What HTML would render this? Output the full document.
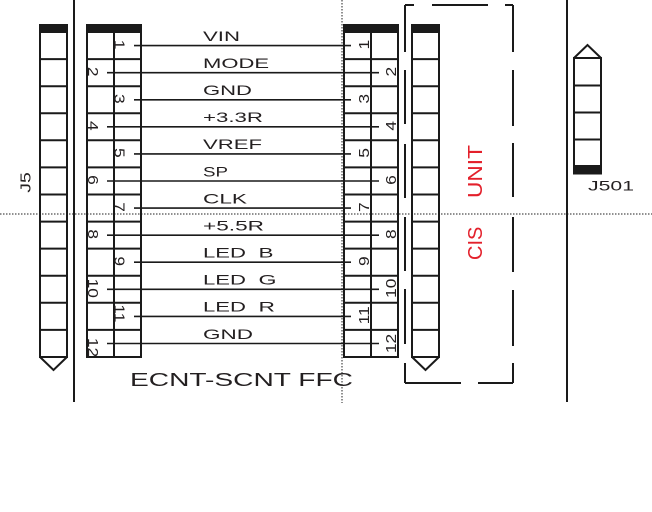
<!DOCTYPE html>
<html>
<head>
<meta charset="utf-8">
<style>
html,body{margin:0;padding:0;background:#fff;}
svg{display:block;}
text{font-family:"Liberation Sans",Arial,sans-serif;fill:#231f20;}
</style>
</head>
<body>
<svg width="652" height="512" viewBox="0 0 652 512" xmlns="http://www.w3.org/2000/svg">
<rect x="0" y="0" width="652" height="512" fill="#fff"/>

<!-- dotted guide lines -->
<line x1="0" y1="214" x2="652" y2="214" stroke="#222" stroke-width="1" stroke-dasharray="1.5 1.5"/>
<line x1="342" y1="0" x2="342" y2="403" stroke="#222" stroke-width="1" stroke-dasharray="1.5 1.5"/>

<!-- solid vertical lines -->
<line x1="74" y1="0" x2="74" y2="402" stroke="#1a1a1a" stroke-width="2"/>
<line x1="567" y1="0" x2="567" y2="402" stroke="#1a1a1a" stroke-width="2"/>

<g stroke="#1a1a1a" stroke-width="2" fill="none">
  <!-- J5 -->
  <rect x="40" y="32" width="27" height="325"/>
  <polyline points="40,357 53.5,370 67,357"/>
  <!-- Left FFC -->
  <rect x="87" y="32" width="54" height="325"/>
  <line x1="114" y1="32" x2="114" y2="357"/>
  <!-- Right FFC -->
  <rect x="344" y="32" width="54" height="325"/>
  <line x1="371" y1="32" x2="371" y2="357"/>
  <!-- CIS connector -->
  <rect x="412" y="32" width="27" height="325"/>
  <polyline points="412,357 425.5,370 439,357"/>
  <!-- row lines -->
  <path d="
  M40 59.1H67 M40 86.2H67 M40 113.2H67 M40 140.3H67 M40 167.4H67 M40 194.5H67 M40 221.6H67 M40 248.6H67 M40 275.7H67 M40 302.8H67 M40 329.9H67
  M87 59.1H141 M87 86.2H141 M87 113.2H141 M87 140.3H141 M87 167.4H141 M87 194.5H141 M87 221.6H141 M87 248.6H141 M87 275.7H141 M87 302.8H141 M87 329.9H141
  M344 59.1H398 M344 86.2H398 M344 113.2H398 M344 140.3H398 M344 167.4H398 M344 194.5H398 M344 221.6H398 M344 248.6H398 M344 275.7H398 M344 302.8H398 M344 329.9H398
  M412 59.1H439 M412 86.2H439 M412 113.2H439 M412 140.3H439 M412 167.4H439 M412 194.5H439 M412 221.6H439 M412 248.6H439 M412 275.7H439 M412 302.8H439 M412 329.9H439
  "/>
  <!-- J501 -->
  <rect x="574" y="58" width="27" height="108"/>
  <path d="M574 85.5H601 M574 112.5H601 M574 139.5H601"/>
  <polyline points="574,58 587.5,45 601,58"/>
  <!-- dashed CIS UNIT box -->
  <path d="
  M405 5H414 M432 5H488 M505 5H513
  M405 5V52 M405 70V124 M405 144V198 M405 217V271 M405 289V344 M405 363V383
  M513 5V52 M513 70V126 M513 143V197 M513 217V272 M513 290V346 M513 363V383
  M405 383H461 M478 383H513"/>
</g>

<!-- black header bars -->
<g fill="#1a1a1a">
  <rect x="39" y="24" width="29" height="8.5"/>
  <rect x="86" y="24" width="56" height="8.5"/>
  <rect x="343" y="24" width="56" height="8.5"/>
  <rect x="411" y="24" width="29" height="8.5"/>
  <rect x="573" y="166" width="29" height="8.5"/>
</g>

<!-- signal lines -->
<g stroke="#1a1a1a" stroke-width="1.6">
  <line x1="134" y1="45.6" x2="351" y2="45.6"/>
  <line x1="107" y1="72.7" x2="379" y2="72.7"/>
  <line x1="134" y1="99.8" x2="351" y2="99.8"/>
  <line x1="107" y1="126.8" x2="379" y2="126.8"/>
  <line x1="134" y1="153.9" x2="351" y2="153.9"/>
  <line x1="107" y1="181.0" x2="379" y2="181.0"/>
  <line x1="134" y1="208.1" x2="351" y2="208.1"/>
  <line x1="107" y1="235.2" x2="379" y2="235.2"/>
  <line x1="134" y1="262.2" x2="351" y2="262.2"/>
  <line x1="107" y1="289.3" x2="379" y2="289.3"/>
  <line x1="134" y1="316.4" x2="351" y2="316.4"/>
  <line x1="107" y1="343.5" x2="379" y2="343.5"/>
</g>

<!-- signal labels -->
<g font-size="14">
  <text x="203" y="40.9" textLength="37" lengthAdjust="spacingAndGlyphs">VIN</text>
  <text x="203" y="68.0" textLength="66" lengthAdjust="spacingAndGlyphs">MODE</text>
  <text x="203" y="95.1" textLength="49" lengthAdjust="spacingAndGlyphs">GND</text>
  <text x="203" y="122.1" textLength="60" lengthAdjust="spacingAndGlyphs">+3.3R</text>
  <text x="203" y="149.2" textLength="59" lengthAdjust="spacingAndGlyphs">VREF</text>
  <text x="203" y="176.3" textLength="25" lengthAdjust="spacingAndGlyphs">SP</text>
  <text x="203" y="203.4" textLength="44" lengthAdjust="spacingAndGlyphs">CLK</text>
  <text x="203" y="230.5" textLength="61" lengthAdjust="spacingAndGlyphs">+5.5R</text>
  <text x="203" y="257.5" textLength="43" lengthAdjust="spacingAndGlyphs">LED</text>
  <text x="258.5" y="257.5" textLength="15" lengthAdjust="spacingAndGlyphs">B</text>
  <text x="203" y="284.6" textLength="43" lengthAdjust="spacingAndGlyphs">LED</text>
  <text x="258.5" y="284.6" textLength="18" lengthAdjust="spacingAndGlyphs">G</text>
  <text x="203" y="311.7" textLength="43" lengthAdjust="spacingAndGlyphs">LED</text>
  <text x="258.5" y="311.7" textLength="16.5" lengthAdjust="spacingAndGlyphs">R</text>
  <text x="203" y="338.8" textLength="50" lengthAdjust="spacingAndGlyphs">GND</text>
</g>

<!-- pin numbers left FFC (reading downward) -->
<g font-size="14.5" text-anchor="middle">
  <text transform="translate(114.5,44.6) rotate(90) scale(1.2,1)">1</text>
  <text transform="translate(88,71.7) rotate(90) scale(1.2,1)">2</text>
  <text transform="translate(114.5,98.8) rotate(90) scale(1.2,1)">3</text>
  <text transform="translate(88,125.8) rotate(90) scale(1.2,1)">4</text>
  <text transform="translate(114.5,152.9) rotate(90) scale(1.2,1)">5</text>
  <text transform="translate(88,180.0) rotate(90) scale(1.2,1)">6</text>
  <text transform="translate(114.5,207.1) rotate(90) scale(1.2,1)">7</text>
  <text transform="translate(88,234.2) rotate(90) scale(1.2,1)">8</text>
  <text transform="translate(114.5,261.2) rotate(90) scale(1.2,1)">9</text>
  <text transform="translate(88,288.3) rotate(90) scale(1.2,1)">10</text>
  <text transform="translate(114.5,313.4) rotate(90) scale(1.2,1)">11</text>
  <text transform="translate(88,347.5) rotate(90) scale(1.2,1)">12</text>
</g>

<!-- pin numbers right FFC (reading upward) -->
<g font-size="14.5" text-anchor="middle">
  <text transform="translate(369,44.6) rotate(-90) scale(1.2,1)">1</text>
  <text transform="translate(396,71.7) rotate(-90) scale(1.2,1)">2</text>
  <text transform="translate(369,98.8) rotate(-90) scale(1.2,1)">3</text>
  <text transform="translate(396,125.8) rotate(-90) scale(1.2,1)">4</text>
  <text transform="translate(369,152.9) rotate(-90) scale(1.2,1)">5</text>
  <text transform="translate(396,180.0) rotate(-90) scale(1.2,1)">6</text>
  <text transform="translate(369,207.1) rotate(-90) scale(1.2,1)">7</text>
  <text transform="translate(396,234.2) rotate(-90) scale(1.2,1)">8</text>
  <text transform="translate(369,261.2) rotate(-90) scale(1.2,1)">9</text>
  <text transform="translate(396,288.3) rotate(-90) scale(1.2,1)">10</text>
  <text transform="translate(369,315.4) rotate(-90) scale(1.2,1)">11</text>
  <text transform="translate(396,343.5) rotate(-90) scale(1.2,1)">12</text>
</g>

<!-- other labels -->
<text transform="translate(30.5,182.5) rotate(-90) scale(1.3,1)" font-size="15" text-anchor="middle">J5</text>
<text x="588" y="190.5" font-size="14" textLength="46" lengthAdjust="spacingAndGlyphs">J501</text>
<text x="130" y="386" font-size="18" textLength="223" lengthAdjust="spacingAndGlyphs">ECNT-SCNT FFC</text>

<text transform="translate(482,260) rotate(-90)" font-size="20" style="fill:#e3202b">CIS</text>
<text transform="translate(482,198) rotate(-90)" font-size="20" textLength="53" lengthAdjust="spacingAndGlyphs" style="fill:#e3202b">UNIT</text>
</svg>
</body>
</html>
